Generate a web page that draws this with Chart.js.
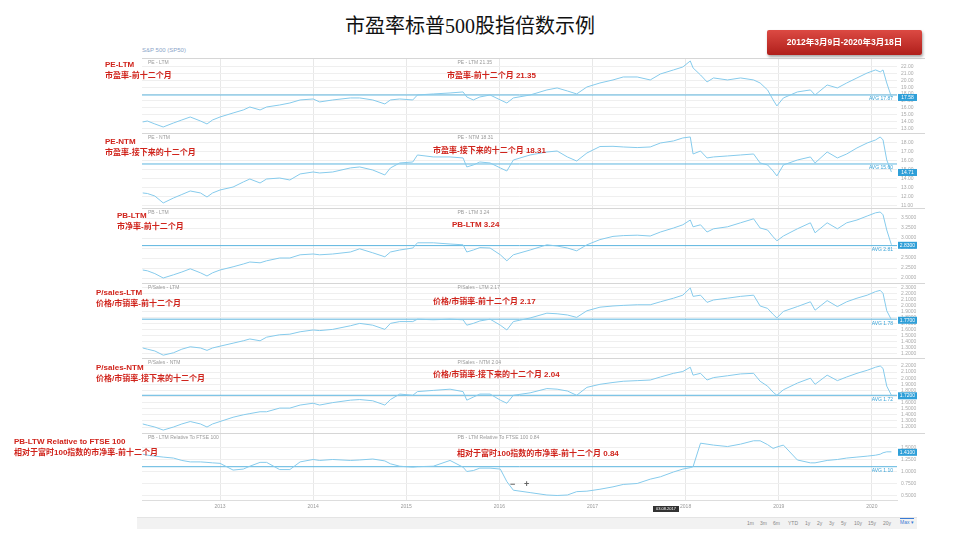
<!DOCTYPE html>
<html>
<head>
<meta charset="utf-8">
<script src="https://cdn.jsdelivr.net/npm/chart.js@4.4.1/dist/chart.umd.min.js"></script>
<style>
body { margin: 0; background: #fff; font-family: "Liberation Sans", "Noto Sans CJK SC", sans-serif; }
#page { position: relative; width: 960px; height: 540px; overflow: hidden; }
#title { position: absolute; left: 0; width: 940px; top: 10px; text-align: center; font-family: "Liberation Serif", "Noto Sans CJK SC", serif; font-size: 20px; color: #111; }
#dateBox { position: absolute; left: 767px; top: 30px; width: 155px; height: 25px; background: linear-gradient(#dc4a43, #b01f1b); border-radius: 2px; box-shadow: 1px 2px 3px rgba(0,0,0,.35); color: #fff; font-weight: bold; font-size: 8.5px; line-height: 25px; text-align: center; z-index: 3; }
.lbl { position: absolute; color: #d0241c; font-weight: bold; font-size: 8px; line-height: 11px; white-space: nowrap; z-index: 3; }
#src { position: absolute; left: 142px; top: 47px; font-size: 6px; color: #8aa4c8; }
#wrap { position: absolute; left: 142px; top: 58px; z-index: 1; }
#bar { position: absolute; left: 137px; top: 517px; width: 780px; height: 11px; background: #f2f2f2; border-top: 1px solid #e4e4e4; }
.rng { position: absolute; top: 520px; font-size: 5px; color: #888; }
.zbtn { position: absolute; top: 479px; font-size: 9px; font-weight: bold; color: #666; z-index: 3; }
#dateTag { position: absolute; left: 653px; top: 506px; width: 26px; height: 6px; background: #333; color: #fff; font-size: 4px; line-height: 6px; text-align: center; z-index: 3; }
#maxBtn { position: absolute; left: 900px; top: 518px; font-size: 5px; color: #3a7bd5; border-top: 1px solid #3a7bd5; }
</style>
</head>
<body>
<div id="page">
  <div id="title">市盈率标普500股指倍数示例</div>
  <div id="dateBox">2012年3月9日-2020年3月18日</div>
  <div id="src">S&amp;P 500 (SP50)</div>

  <div id="wrap"><canvas id="chart" width="783" height="454"></canvas></div>

  <div class="lbl" style="left:105px;top:58.5px">PE-LTM<br>市盈率-前十二个月</div>
  <div class="lbl" style="left:447px;top:69.5px">市盈率-前十二个月 21.35</div>
  <div class="lbl" style="left:105px;top:136px">PE-NTM<br>市盈率-接下来的十二个月</div>
  <div class="lbl" style="left:433px;top:144.5px">市盈率-接下来的十二个月 18.31</div>
  <div class="lbl" style="left:117px;top:210px">PB-LTM<br>市净率-前十二个月</div>
  <div class="lbl" style="left:452px;top:218.5px">PB-LTM 3.24</div>
  <div class="lbl" style="left:96px;top:287px">P/sales-LTM<br>价格/市销率-前十二个月</div>
  <div class="lbl" style="left:433px;top:295.5px">价格/市销率-前十二个月 2.17</div>
  <div class="lbl" style="left:96px;top:362px">P/sales-NTM<br>价格/市销率-接下来的十二个月</div>
  <div class="lbl" style="left:433px;top:368.5px">价格/市销率-接下来的十二个月 2.04</div>
  <div class="lbl" style="left:14px;top:435.5px">PB-LTW Relative to FTSE 100<br>相对于富时100指数的市净率-前十二个月</div>
  <div class="lbl" style="left:457px;top:447.5px">相对于富时100指数的市净率-前十二个月 0.84</div>

  <div class="zbtn" style="left:510px">−</div>
  <div class="zbtn" style="left:524px">+</div>
  <div id="dateTag">03.08.2017</div>

  <div id="bar"></div>
  <span class="rng" style="left:747px">1m</span>
  <span class="rng" style="left:760px">3m</span>
  <span class="rng" style="left:773px">6m</span>
  <span class="rng" style="left:788px">YTD</span>
  <span class="rng" style="left:805px">1y</span>
  <span class="rng" style="left:817px">2y</span>
  <span class="rng" style="left:829px">3y</span>
  <span class="rng" style="left:841px">5y</span>
  <span class="rng" style="left:854px">10y</span>
  <span class="rng" style="left:868px">15y</span>
  <span class="rng" style="left:883px">20y</span>
  <span id="maxBtn">Max ▾</span>
</div>

<script>
// dates as decimal years, 2012-03-09 .. 2020-03-18
const dates = [2012.17,2012.22,2012.30,2012.39,2012.50,2012.59,2012.68,2012.79,2012.86,2012.92,
  2013.00,2013.14,2013.25,2013.32,2013.43,2013.50,2013.64,2013.75,2013.86,2014.00,
  2014.07,2014.21,2014.40,2014.50,2014.64,2014.77,2014.83,2014.93,2015.07,2015.12,
  2015.29,2015.47,2015.61,2015.65,2015.72,2015.79,2015.90,2016.01,2016.08,2016.15,
  2016.33,2016.51,2016.62,2016.73,2016.83,2016.94,2017.08,2017.22,2017.33,2017.48,
  2017.62,2017.73,2017.87,2017.97,2018.05,2018.08,2018.16,2018.23,2018.30,2018.45,
  2018.59,2018.73,2018.80,2018.88,2018.94,2018.98,2019.05,2019.20,2019.34,2019.39,
  2019.52,2019.63,2019.73,2019.84,2019.95,2020.04,2020.09,2020.12,2020.16,2020.21];

const peLtm = [13.96,14.10,13.67,13.23,13.81,14.25,14.68,14.10,13.67,14.25,
  14.68,15.26,15.70,16.13,15.70,16.13,16.42,16.71,17.15,17.29,
  16.86,17.15,17.44,17.44,17.15,16.57,17.15,17.29,17.15,17.87,
  18.02,18.16,18.31,17.58,17.15,17.58,17.87,17.15,16.71,17.44,
  17.87,18.60,18.89,18.45,18.02,19.03,19.61,20.05,20.48,20.48,
  20.05,20.92,21.50,21.93,22.80,21.79,20.77,19.76,20.34,20.05,
  20.34,20.05,19.61,18.60,17.15,16.28,17.44,18.31,18.60,17.87,
  19.32,18.89,19.61,20.34,21.06,21.50,21.21,21.50,19.61,17.58];

const peNtm = [12.38,12.32,12.04,11.27,11.82,12.21,12.60,12.38,11.93,12.38,
  12.71,13.04,13.60,13.93,13.49,13.93,14.04,13.82,14.49,14.71,
  14.60,14.71,15.16,15.27,14.93,14.38,15.16,15.71,15.82,16.60,
  16.38,16.38,16.27,15.27,15.49,15.82,15.71,15.16,14.82,16.04,
  16.60,16.93,17.04,16.38,15.93,16.82,17.54,17.56,17.49,17.42,
  17.49,17.93,18.16,18.49,18.60,16.71,17.04,16.27,16.38,16.49,
  16.60,16.71,15.71,15.49,14.82,14.27,15.49,16.04,16.38,15.71,
  16.93,16.27,16.71,17.38,17.93,18.27,18.60,18.27,16.04,14.71];

const pbLtm = [2.20,2.18,2.11,2.00,2.08,2.15,2.23,2.13,2.05,2.13,
  2.20,2.28,2.35,2.40,2.38,2.43,2.50,2.50,2.58,2.60,
  2.58,2.60,2.65,2.73,2.63,2.53,2.65,2.70,2.75,2.88,
  2.88,2.85,2.83,2.65,2.70,2.76,2.75,2.58,2.43,2.58,
  2.70,2.83,2.80,2.75,2.68,2.83,2.96,3.04,3.06,3.07,
  3.05,3.15,3.25,3.33,3.45,3.28,3.33,3.15,3.23,3.28,
  3.38,3.48,3.25,3.20,3.03,2.93,3.05,3.23,3.38,3.13,
  3.38,3.23,3.38,3.45,3.55,3.63,3.65,3.58,3.20,2.83];

const psLtm = [1.30,1.28,1.25,1.18,1.22,1.28,1.32,1.30,1.26,1.30,
  1.33,1.38,1.42,1.45,1.42,1.48,1.52,1.53,1.57,1.60,
  1.59,1.61,1.67,1.71,1.68,1.61,1.71,1.74,1.74,1.78,
  1.77,1.78,1.77,1.68,1.71,1.75,1.78,1.68,1.60,1.74,
  1.80,1.88,1.87,1.85,1.81,1.92,1.98,2.00,2.01,2.02,
  2.02,2.07,2.13,2.18,2.30,2.16,2.18,2.06,2.10,2.13,
  2.16,2.18,2.00,1.96,1.86,1.80,1.91,1.99,2.07,1.93,
  2.09,1.99,2.07,2.13,2.18,2.24,2.26,2.21,1.92,1.77];

const psNtm = [1.25,1.23,1.20,1.15,1.20,1.25,1.29,1.25,1.20,1.25,
  1.29,1.36,1.40,1.42,1.45,1.45,1.51,1.51,1.56,1.59,
  1.56,1.60,1.64,1.65,1.63,1.56,1.65,1.74,1.72,1.78,
  1.80,1.82,1.78,1.64,1.69,1.74,1.74,1.64,1.59,1.72,
  1.76,1.83,1.82,1.79,1.72,1.85,1.90,1.93,1.95,1.96,
  1.97,2.02,2.08,2.11,2.18,2.05,2.08,1.97,2.01,2.04,
  2.07,2.08,1.95,1.87,1.77,1.72,1.81,1.92,2.00,1.90,
  2.05,1.96,2.02,2.08,2.13,2.18,2.20,2.16,1.87,1.72];

const pbRelFtse = [1.36,1.34,1.32,1.30,1.28,1.23,1.20,1.20,1.19,1.18,
  1.17,1.03,1.05,1.11,1.19,1.19,1.04,1.04,1.20,1.25,
  1.23,1.25,1.23,1.24,1.26,1.22,1.16,1.11,1.09,1.10,
  1.11,1.23,1.09,1.00,1.02,1.07,1.07,1.05,0.79,0.61,
  0.56,0.51,0.50,0.51,0.58,0.59,0.63,0.68,0.73,0.75,
  0.84,0.89,0.99,1.05,1.08,1.10,1.59,1.57,1.55,1.52,
  1.57,1.64,1.64,1.56,1.48,1.51,1.55,1.24,1.18,1.18,
  1.23,1.25,1.28,1.30,1.32,1.34,1.36,1.39,1.41,1.41];

const averages = [17.87, 15.60, 2.81, 1.78, 1.72, 1.10];
const years = [2013, 2014, 2015, 2016, 2017, 2018, 2019, 2020];
const headers = ['PE - LTM', 'PE - NTM', 'PB - LTM', 'P/Sales - LTM', 'P/Sales - NTM', 'PB - LTM Relative To FTSE 100'];
const headerValues = ['21.35', '18.31', '3.24', '2.17', '2.04', '0.84'];

const series = [peLtm, peNtm, pbLtm, psLtm, psNtm, pbRelFtse];
// [min, max, step, decimals, weight] for each stacked panel
const panels = [
  [12.36, 23.23, 1, 2, 75],
  [10.71, 19.04, 1, 2, 75],
  [1.875, 3.75, 0.25, 4, 75],
  [1.133, 2.383, 0.1, 4, 75],
  [1.102, 2.331, 0.1, 4, 75],
  [0.406, 1.802, 0.25, 4, 67]
];
const xMin = 2012.162, xMax = 2020.27;

const lineColor = '#86cbec';
const avgColor = '#5db5df';

const datasets = [];
const scales = {
  x: {
    type: 'linear', min: xMin, max: xMax,
    afterBuildTicks: s => { s.ticks = years.map(v => ({ value: v })); },
    afterFit: s => { s.height = 12; s.paddingLeft = 0; s.paddingRight = 0; },
    grid: { color: '#e8e8e8', drawTicks: false },
    border: { color: '#dddddd' },
    ticks: { font: { size: 5 }, color: '#999', padding: 4, autoSkip: false, callback: v => String(v) }
  }
};

series.forEach((vals, i) => {
  const id = 'y' + i;
  const p = panels[i];
  datasets.push({
    data: dates.map((d, k) => ({ x: d, y: vals[k] })),
    yAxisID: id, borderColor: lineColor, borderWidth: 1, pointRadius: 0, tension: 0
  });
  datasets.push({
    data: [{ x: xMin, y: averages[i] }, { x: xMax, y: averages[i] }],
    yAxisID: id, borderColor: avgColor, borderWidth: 1, pointRadius: 0
  });
  scales[id] = {
    type: 'linear', position: 'right', stack: 'panels', stackWeight: p[4],
    min: p[0], max: p[1],
    // keep labels off the panel edges so neighbouring panels don't collide
    afterBuildTicks: s => {
      const pad = (p[1] - p[0]) * 0.05;
      s.ticks = s.ticks.filter(t => t.value < p[1] - pad && t.value > p[0] + pad * 0.5);
    },
    afterFit: s => { s.width = 28; s.paddingTop = 0; s.paddingBottom = 0; },
    grid: { color: '#efefef', drawTicks: false },
    border: { display: false },
    ticks: {
      stepSize: p[2], includeBounds: false, autoSkip: false, maxTicksLimit: 200,
      font: { size: 5 }, color: '#aaa', padding: 4,
      callback: v => Number(v).toFixed(p[3])
    }
  };
});

const panelPlugin = {
  id: 'panels',
  afterDatasetsDraw(chart) {
    const ctx = chart.ctx;
    const area = chart.chartArea;
    const midX = chart.scales.x.getPixelForValue(2015.55);
    ctx.save();
    series.forEach((vals, i) => {
      const s = chart.scales['y' + i];
      const top = Math.round(s.top) + 0.5;
      ctx.strokeStyle = '#d6d6d6';
      ctx.lineWidth = 1;
      ctx.beginPath();
      ctx.moveTo(area.left - 2, top);
      ctx.lineTo(s.right, top);
      ctx.stroke();

      ctx.font = '5px "Liberation Sans"';
      ctx.fillStyle = '#999';
      ctx.textAlign = 'left';
      ctx.textBaseline = 'middle';
      ctx.fillText(headers[i], area.left + 6, s.top + 5);
      ctx.fillText(headers[i] + ' ' + headerValues[i], midX, s.top + 5);

      const ya = s.getPixelForValue(averages[i]);
      ctx.fillStyle = '#3aa4d8';
      ctx.textAlign = 'right';
      ctx.fillText('AVG ' + averages[i].toFixed(2), area.right - 4, ya + 4);

      const last = vals[vals.length - 1];
      const yl = s.getPixelForValue(last);
      ctx.fillStyle = '#2f9fd8';
      ctx.fillRect(area.right + 1, yl - 3, 19, 7);
      ctx.fillStyle = '#fff';
      ctx.textAlign = 'center';
      ctx.fillText(last.toFixed(panels[i][3]), area.right + 10.5, yl + 0.5);
    });
    ctx.restore();
  }
};

new Chart(document.getElementById('chart').getContext('2d'), {
  type: 'line',
  data: { datasets },
  options: {
    responsive: false,
    animation: false,
    layout: { padding: 0 },
    plugins: { legend: { display: false }, tooltip: { enabled: false } },
    scales
  },
  plugins: [panelPlugin]
});
</script>
</body>
</html>
